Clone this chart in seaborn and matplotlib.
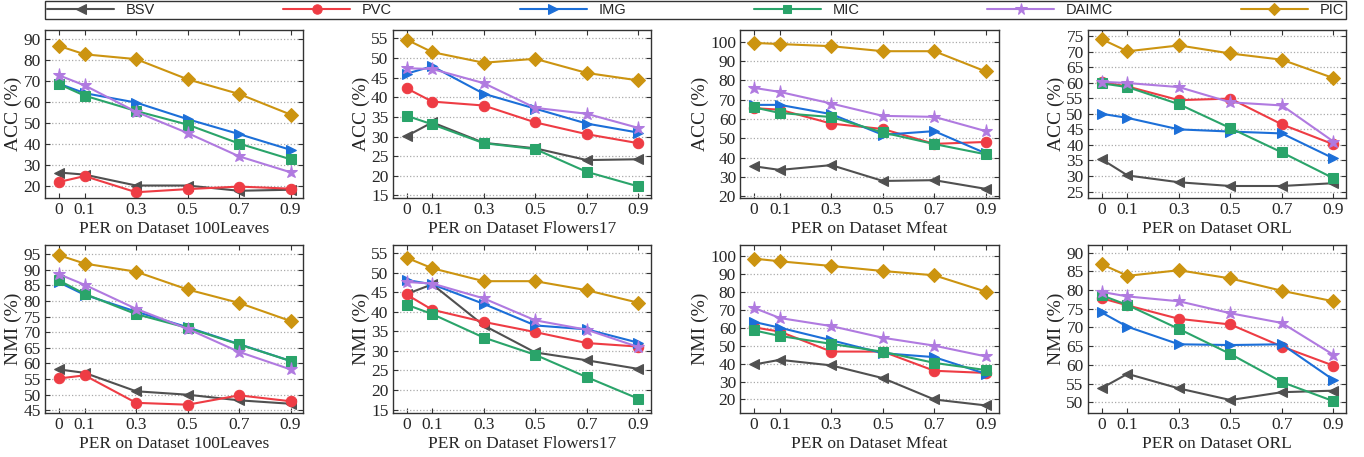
import numpy as np
import pandas as pd
import seaborn as sns
import matplotlib.pyplot as plt

# missing rates on the x axis
per = [0, 0.1, 0.3, 0.5, 0.7, 0.9]
methods = ["BSV", "PVC", "IMG", "MIC", "DAIMC", "PIC"]
datasets = ["100Leaves", "Flowers17", "Mfeat", "ORL"]

# ACC (%) per dataset, one list per method
acc_100leaves = {
    "BSV": [26.2, 25.2, 20.0, 20.0, 17.5, 18.0],
    "PVC": [21.7, 24.5, 16.8, 18.3, 19.5, 18.5],
    "IMG": [68.5, 64.0, 59.5, 51.6, 44.5, 37.0],
    "MIC": [68.3, 62.8, 55.5, 49.0, 40.0, 32.5],
    "DAIMC": [72.5, 67.7, 55.1, 45.0, 33.9, 26.3],
    "PIC": [86.5, 82.5, 80.2, 70.6, 63.6, 53.8],
}
acc_flowers17 = {
    "BSV": [30.1, 33.6, 28.4, 27.0, 24.0, 24.2],
    "PVC": [42.3, 38.9, 37.9, 33.6, 30.6, 28.3],
    "IMG": [46.0, 47.9, 40.9, 37.1, 33.3, 31.0],
    "MIC": [35.3, 33.1, 28.3, 26.8, 21.0, 17.3],
    "DAIMC": [47.4, 47.2, 43.6, 37.3, 35.8, 32.2],
    "PIC": [54.7, 51.5, 48.8, 49.8, 46.2, 44.3],
}
acc_mfeat = {
    "BSV": [35.5, 33.6, 36.1, 27.9, 28.3, 23.8],
    "PVC": [65.6, 64.8, 57.6, 54.8, 47.1, 48.1],
    "IMG": [67.3, 67.3, 62.5, 51.8, 53.7, 42.2],
    "MIC": [66.0, 63.1, 61.0, 53.0, 47.0, 41.7],
    "DAIMC": [76.1, 74.0, 68.0, 61.6, 61.1, 53.7],
    "PIC": [99.4, 98.8, 97.7, 95.1, 95.1, 84.6],
}
acc_orl = {
    "BSV": [35.4, 30.2, 28.0, 26.8, 26.8, 27.7],
    "PVC": [60.2, 58.8, 54.4, 54.9, 46.6, 40.2],
    "IMG": [50.0, 48.7, 45.0, 44.3, 43.7, 35.7],
    "MIC": [59.8, 58.6, 53.1, 45.4, 37.6, 29.3],
    "DAIMC": [60.3, 59.9, 58.6, 53.7, 52.7, 41.1],
    "PIC": [74.0, 70.1, 72.0, 69.4, 67.4, 61.5],
}

# NMI (%) per dataset
nmi_100leaves = {
    "BSV": [58.1, 57.0, 51.1, 50.0, 48.2, 47.1],
    "PVC": [55.2, 56.2, 47.4, 46.8, 49.8, 47.9],
    "IMG": [86.0, 82.0, 76.6, 71.6, 66.2, 60.8],
    "MIC": [86.6, 82.3, 75.8, 71.4, 66.1, 60.8],
    "DAIMC": [88.6, 85.2, 77.5, 71.1, 63.7, 58.1],
    "PIC": [94.7, 92.0, 89.4, 83.7, 79.4, 73.6],
}
nmi_flowers17 = {
    "BSV": [44.5, 47.0, 36.5, 29.6, 27.6, 25.4],
    "PVC": [44.4, 40.5, 37.4, 34.8, 32.0, 31.1],
    "IMG": [48.1, 47.0, 42.0, 36.5, 35.5, 32.1],
    "MIC": [41.8, 39.4, 33.4, 29.0, 23.3, 17.8],
    "DAIMC": [47.6, 47.2, 43.4, 37.8, 35.4, 31.0],
    "PIC": [53.8, 51.1, 47.8, 47.8, 45.5, 42.3],
}
nmi_mfeat = {
    "BSV": [39.5, 42.1, 39.0, 31.9, 20.0, 16.7],
    "PVC": [60.2, 57.8, 46.7, 46.7, 36.0, 34.8],
    "IMG": [63.2, 60.0, 53.0, 45.8, 43.6, 34.3],
    "MIC": [58.5, 55.4, 51.0, 46.6, 40.4, 36.4],
    "DAIMC": [71.0, 65.4, 60.9, 54.4, 50.0, 44.0],
    "PIC": [98.5, 97.0, 94.4, 91.6, 89.2, 80.1],
}
nmi_orl = {
    "BSV": [53.8, 57.6, 53.7, 50.6, 52.7, 53.1],
    "PVC": [77.8, 75.9, 72.3, 70.8, 64.9, 59.8],
    "IMG": [74.0, 70.2, 65.5, 65.3, 65.5, 56.0],
    "MIC": [78.6, 76.0, 69.6, 62.9, 55.4, 50.3],
    "DAIMC": [79.5, 78.3, 77.0, 73.8, 71.2, 62.7],
    "PIC": [86.9, 83.8, 85.3, 83.1, 79.8, 77.0],
}

acc_results = [acc_100leaves, acc_flowers17, acc_mfeat, acc_orl]
nmi_results = [nmi_100leaves, nmi_flowers17, nmi_mfeat, nmi_orl]

# y ticks for each panel
acc_ticks = [np.arange(20, 91, 10), np.arange(15, 56, 5), np.arange(20, 101, 10), np.arange(25, 76, 5)]
nmi_ticks = [np.arange(45, 96, 5), np.arange(15, 56, 5), np.arange(20, 101, 10), np.arange(50, 91, 5)]
acc_lims = [(14, 94), (14.3, 57.1), (19, 106), (22.9, 76.9)]
nmi_lims = [(44.1, 97.9), (14.1, 57), (12.4, 106), (47.1, 92)]

colors = {"BSV": "#505050", "PVC": "#ee3c44", "IMG": "#1c6fd8",
          "MIC": "#2aa46a", "DAIMC": "#b07ae0", "PIC": "#cc9410"}
markers = {"BSV": "<", "PVC": "o", "IMG": ">", "MIC": "s", "DAIMC": "*", "PIC": "D"}
msizes = {"BSV": 7.5, "PVC": 7.5, "IMG": 7.5, "MIC": 7, "DAIMC": 9.5, "PIC": 7}

sns.set_style("ticks")
plt.rcParams['font.family'] = ['Liberation Serif', 'DejaVu Serif']
plt.rcParams['font.size'] = 12

fig, axes = plt.subplots(2, 4, figsize=(13.64, 4.57), dpi=100)


def draw_panel(ax, results, ylabel, ticks, lims, dataset):
    for m in methods:
        df = pd.DataFrame({"per": per, "val": results[m]})
        sns.lineplot(data=df, x="per", y="val", ax=ax, color=colors[m],
                     marker=markers[m], markersize=msizes[m], linewidth=1.5,
                     markeredgecolor=colors[m], label=m, legend=False)
    ax.set_xlim(-0.054, 0.95)
    ax.set_ylim(*lims)
    ax.set_xticks(per)
    ax.set_xticklabels(["0", "0.1", "0.3", "0.5", "0.7", "0.9"])
    ax.set_yticks(ticks)
    ax.grid(axis="y", linestyle=":", color="#aaaaaa", linewidth=0.9)
    ax.tick_params(direction="in", right=True, top=True, labelsize=12.5, length=3.5,
                   color="#333333", pad=3)
    ax.set_xlabel(f"PER on Dataset {dataset}", fontsize=12.5, labelpad=2)
    ax.set_ylabel(ylabel, fontsize=14, labelpad=1)
    for s in ax.spines.values():
        s.set_color("#333333")
        s.set_linewidth(1.0)


for i, d in enumerate(datasets):
    draw_panel(axes[0, i], acc_results[i], "ACC (%)", acc_ticks[i], acc_lims[i], d)
    draw_panel(axes[1, i], nmi_results[i], "NMI (%)", nmi_ticks[i], nmi_lims[i], d)

handles, labels = axes[0, 0].get_legend_handles_labels()
leg = fig.legend(handles, labels, loc="upper left", ncol=6, mode="expand",
                 bbox_to_anchor=(0.033, 0.998, 0.954, 0.0), frameon=True,
                 fancybox=False, edgecolor="black", handlelength=4.6, handletextpad=0.8,
                 borderpad=0.15, borderaxespad=0.0, markerscale=0.9,
                 prop={"family": ["Liberation Sans", "DejaVu Sans"], "size": 10.5})
leg.get_frame().set_linewidth(1.0)

plt.subplots_adjust(left=0.033, right=0.987, top=0.934, bottom=0.096, wspace=0.345, hspace=0.28)

plt.savefig("out.png", dpi=100)
